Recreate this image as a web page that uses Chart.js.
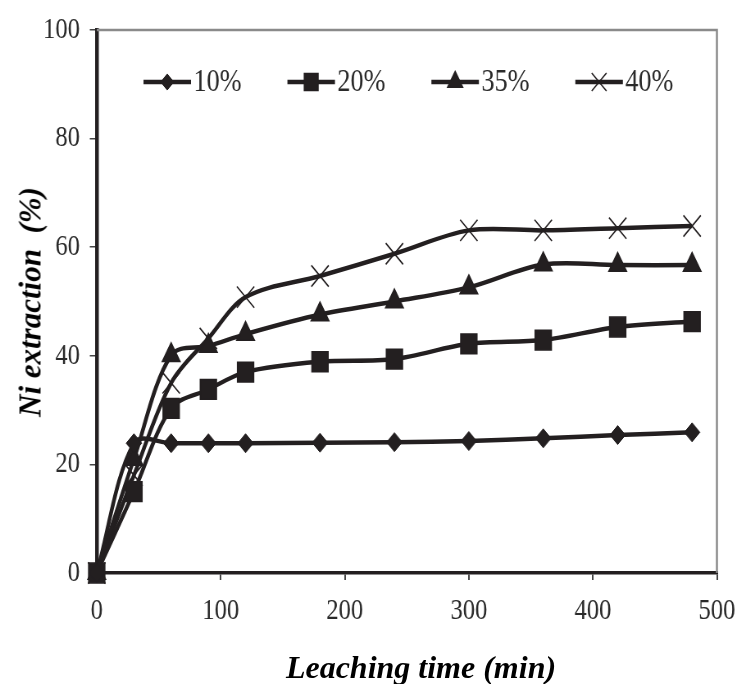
<!DOCTYPE html>
<html>
<head>
<meta charset="utf-8">
<script src="https://cdn.jsdelivr.net/npm/chart.js@4.4.1/dist/chart.umd.min.js"></script>
<style>
html, body { margin: 0; padding: 0; background: #fff; overflow: hidden; }
#wrap { position: relative; width: 746px; height: 684px; overflow: hidden; }
/* the source figure is squeezed horizontally, so the chart canvas is too */
#squeeze { position: absolute; left: 0; top: 0; width: 910px; height: 684px; transform: scaleX(0.81978); transform-origin: 0 0; }
.axis-title { position: absolute; font-family: "Liberation Serif", "Times New Roman", serif; font-weight: bold; font-style: italic; color: #000; white-space: nowrap; }
#xTitle { left: 421px; top: 651px; font-size: 32px; line-height: 32px; transform: translateX(-50%); }
#yTitle { left: 30px; top: 302px; font-size: 31px; line-height: 31px; transform: translate(-50%, -50%) rotate(-90deg); }
</style>
</head>
<body>
<div id="wrap">
  <div id="squeeze"><canvas id="chart" width="910" height="684"></canvas></div>
  <div class="axis-title" id="xTitle">Leaching time (min)</div>
  <div class="axis-title" id="yTitle">Ni extraction&nbsp; (%)</div>
</div>
<script>
// leaching time (min)
const times = [0, 30, 60, 90, 120, 180, 240, 300, 360, 420, 480];

// Ni extraction (%) per acid concentration
const ni10 = [0, 23.9, 23.9, 23.9, 23.9, 24.0, 24.1, 24.3, 24.8, 25.4, 25.9];
const ni20 = [0, 15.0, 30.3, 33.8, 37.0, 38.9, 39.4, 42.2, 42.9, 45.3, 46.3];
const ni35 = [0, 21.0, 40.1, 41.8, 44.0, 47.6, 50.0, 52.6, 56.8, 56.7, 56.7];
const ni40 = [0, 18.0, 35.0, 43.2, 50.8, 54.7, 58.8, 63.1, 63.1, 63.5, 63.9];

const seriesLabels = ['10%', '20%', '35%', '40%'];

const xMin = 0, xMax = 500, xStep = 100;
const yMin = 0, yMax = 100, yStep = 20;

const ink = '#231f20';
const tickFont = { family: '"Liberation Serif", "Times New Roman", serif', size: 30 };

function series(label, values, style, radius, pointBorder) {
    return {
        label,
        data: times.map((t, i) => ({ x: t, y: values[i] })),
        borderColor: ink,
        backgroundColor: ink,
        borderWidth: 4.5,
        pointStyle: style,
        pointRadius: radius,
        pointHoverRadius: radius,
        pointBorderWidth: pointBorder,
        pointBackgroundColor: ink,
        pointBorderColor: ink,
        tension: 0.33,
        clip: false
    };
}

// grey top/right frame of the plot box
const frame = {
    id: 'frame',
    beforeDatasetsDraw(chart) {
        const a = chart.chartArea, ctx = chart.ctx;
        ctx.save();
        ctx.strokeStyle = '#8a8a8a';
        ctx.lineWidth = 2.5;
        ctx.beginPath();
        ctx.moveTo(a.left, a.top);
        ctx.lineTo(a.right, a.top);
        ctx.lineTo(a.right, a.bottom);
        ctx.stroke();
        ctx.restore();
    }
};

// legend inside the plot: line sample + marker + label
const legendInside = {
    id: 'legendInside',
    afterDraw(chart) {
        const a = chart.chartArea, ctx = chart.ctx;
        ctx.save();
        chart.data.datasets.forEach((ds, i) => {
            const x0 = a.left + 57 + i * 175.6;
            const y0 = 82;
            ctx.strokeStyle = ink;
            ctx.fillStyle = ink;
            ctx.lineWidth = ds.borderWidth;
            ctx.beginPath();
            ctx.moveTo(x0, y0);
            ctx.lineTo(x0 + 58, y0);
            ctx.stroke();
            if (Chart.helpers && Chart.helpers.drawPoint) {
                ctx.lineWidth = ds.pointBorderWidth;
                Chart.helpers.drawPoint(ctx, {
                    pointStyle: ds.pointStyle, radius: ds.pointRadius * 0.85,
                    rotation: 0, borderWidth: ds.pointBorderWidth
                }, x0 + 29, y0);
            }
            ctx.font = '32px "Liberation Serif", "Times New Roman", serif';
            ctx.textBaseline = 'middle';
            ctx.textAlign = 'left';
            ctx.fillStyle = '#2a2a2a';
            ctx.fillText(ds.label, x0 + 61, y0 + 1);
        });
        ctx.restore();
    }
};

new Chart(document.getElementById('chart'), {
    type: 'line',
    data: {
        datasets: [
            series(seriesLabels[0], ni10, 'rectRot', 9.5, 1),
            series(seriesLabels[1], ni20, 'rect', 14, 1.5),
            series(seriesLabels[2], ni35, 'triangle', 12.5, 1.5),
            series(seriesLabels[3], ni40, 'crossRot', 15, 1.6)
        ]
    },
    options: {
        responsive: false,
        animation: false,
        devicePixelRatio: 1,
        layout: { padding: { top: 25, right: 28, left: 0, bottom: 0 } },
        plugins: { legend: { display: false }, tooltip: { enabled: false } },
        scales: {
            x: {
                type: 'linear', min: xMin, max: xMax,
                ticks: { stepSize: xStep, color: '#2a2a2a', font: tickFont, padding: 13, maxRotation: 0 },
                grid: { drawOnChartArea: false, tickLength: 7, color: '#444', lineWidth: 2 },
                border: { color: ink, width: 3.5 },
                afterFit(s) { s.height = 111; }
            },
            y: {
                type: 'linear', min: yMin, max: yMax,
                ticks: { stepSize: yStep, color: '#2a2a2a', font: tickFont, padding: 12 },
                grid: { drawOnChartArea: false, tickLength: 8.5, color: '#444', lineWidth: 1.5 },
                border: { color: ink, width: 4.5 },
                afterFit(s) { s.width = 118; }
            }
        }
    },
    plugins: [frame, legendInside]
});
</script>
</body>
</html>
